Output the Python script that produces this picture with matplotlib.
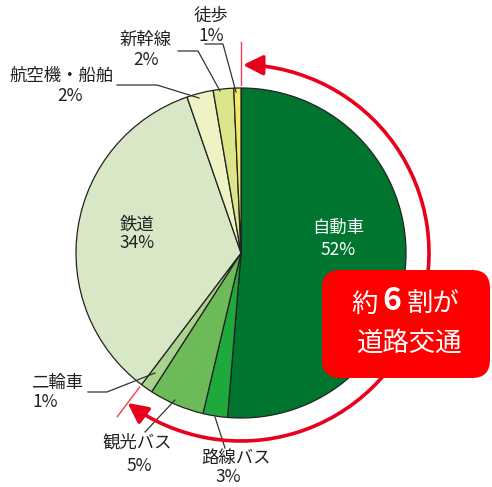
import numpy as np
import matplotlib.pyplot as plt
from matplotlib.patches import FancyArrowPatch, FancyBboxPatch
from matplotlib.path import Path
from matplotlib.transforms import Affine2D

plt.rcParams['font.family'] = ['Noto Sans CJK JP', 'DejaVu Sans']

# 交通手段別の割合 (時計回り, 上から)
labels = ['自動車', '路線バス', '観光バス', '二輪車', '鉄道', '航空機・船舶', '新幹線', '徒歩']
shares = [51.3, 2.4, 5.4, 1.2, 34.4, 2.6, 2.0, 0.7]
pct_text = ['52%', '3%', '5%', '1%', '34%', '2%', '2%', '1%']
colors = ['#007530', '#1fa83c', '#6dba58', '#a9d38d', '#d8e8c6', '#eff3c3', '#dde58a', '#f1e96c']
road_n = 4  # 道路交通 = 先頭4項目

W, H = 492, 487
fig = plt.figure(figsize=(W / 100, H / 100), dpi=100)
ax = fig.add_axes([0, 0, 1, 1])

cx, cy, r = 241, 253, 165
ax.pie(shares, colors=colors, startangle=-90, counterclock=True,
       center=(cx, cy), radius=r, frame=True,
       wedgeprops=dict(edgecolor='#222222', linewidth=0.9))
ax.set_xlim(0, W)
ax.set_ylim(H, 0)
ax.set_aspect('equal')
ax.axis('off')

fs = 12.5
# 内側ラベル
ax.text(338, 228, labels[0], color='white', fontsize=fs, ha='center', va='center')
ax.text(338, 250, pct_text[0], color='white', fontsize=fs, ha='center', va='center')
ax.text(137, 225, labels[4], color='#222222', fontsize=fs, ha='center', va='center')
ax.text(137, 243, pct_text[4], color='#222222', fontsize=fs, ha='center', va='center')

# 外側ラベルと引出線
lc = '#333333'
outer = [
    # idx, (label x, y), (pct x, y), line points
    (7, (211, 16), (211, 36), [(205, 44), (223, 44), (236, 92)]),
    (6, (146, 40), (146, 60), [(178, 51), (198, 51), (220, 91)]),
    (5, (62, 76), (70, 96), [(117, 85), (157, 85), (199, 98)]),
    (3, (57, 383), (45, 402), [(88, 392), (107, 392), (155, 373)]),
    (2, (137, 443), (139, 466), [(145, 432), (175, 400)]),
    (1, (236, 458), (228, 477), [(225, 448), (215, 417)]),
]
for i, lp, pp, pts in outer:
    ax.text(lp[0], lp[1], labels[i], color='#222222', fontsize=fs, ha='center', va='center')
    ax.text(pp[0], pp[1], pct_text[i], color='#222222', fontsize=fs, ha='center', va='center')
    xs, ys = zip(*pts)
    ax.plot(xs, ys, color=lc, linewidth=0.9)

# 道路交通の範囲を示す矢印
road_end = sum(shares[:road_n]) / sum(shares) * 360
red = '#e8001c'
ra = 188
arc = Path.arc(-90 + 0.6, -90 + road_end)
arc = arc.transformed(Affine2D().scale(ra).translate(cx, cy))
arrow = FancyArrowPatch(path=arc, arrowstyle='<|-|>,head_length=12,head_width=6',
                        color=red, linewidth=2.6, zorder=5)
ax.add_patch(arrow)

# 区切りの赤い線
for ang in (0, road_end):
    t = np.deg2rad(-90 + ang)
    r1, r2 = 168, 205 if ang else 211
    ax.plot([cx + r1 * np.cos(t), cx + r2 * np.cos(t)],
            [cy + r1 * np.sin(t), cy + r2 * np.sin(t)],
            color='#f04050', linewidth=1.0, zorder=5)

# 吹き出し
box = FancyBboxPatch((322, 270), 168, 108, boxstyle='round,pad=0,rounding_size=18',
                     facecolor='#ff0000', edgecolor='none', zorder=6)
ax.add_patch(box)
ax.text(365, 304, '約', color='white', fontsize=19, ha='center', va='center', zorder=7)
ax.text(392, 301, '6', color='white', fontsize=23, fontweight='bold', ha='center', va='center', zorder=7)
ax.text(433, 304, '割が', color='white', fontsize=19, ha='center', va='center', zorder=7)
ax.text(409, 343, '道路交通', color='white', fontsize=19, ha='center', va='center', zorder=7)

fig.savefig('out.png', dpi=100)
